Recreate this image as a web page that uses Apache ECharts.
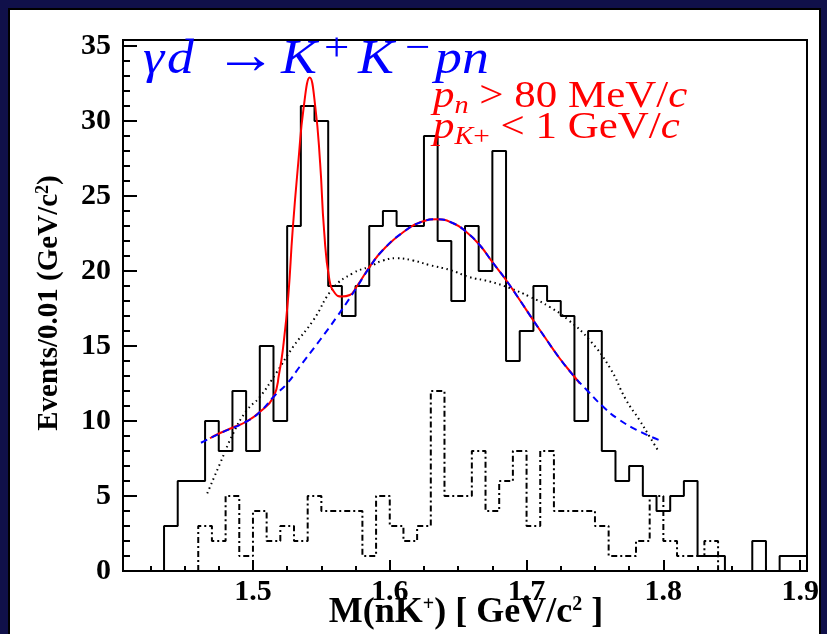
<!DOCTYPE html>
<html>
<head>
<meta charset="utf-8">
<script src="https://cdn.jsdelivr.net/npm/echarts@6/dist/echarts.min.js"></script>
<style>
  html, body { margin: 0; padding: 0; background: #10104a; }
  #panel { position: absolute; left: 8px; top: 8px; width: 809px; height: 640px; background: #fff; border: 2px solid #000; }
  #chart { position: absolute; left: 0; top: 0; width: 827px; height: 634px; }
</style>
</head>
<body>
<div id="panel"></div>
<div id="chart"></div>
<script>
// axis ranges and ticks
const xMin = 1.405, xMax = 1.905;
const yMin = 0, yMax = 35.4;
const xMajorTicks = [1.5, 1.6, 1.7, 1.8, 1.9];
const xMinorTicks = [1.425, 1.45, 1.475, 1.525, 1.55, 1.575, 1.625, 1.65, 1.675, 1.725, 1.75, 1.775, 1.825, 1.85, 1.875];
const yMajorTicks = [0, 5, 10, 15, 20, 25, 30, 35];
const yMinorTicks = [1, 2, 3, 4, 6, 7, 8, 9, 11, 12, 13, 14, 16, 17, 18, 19, 21, 22, 23, 24, 26, 27, 28, 29, 31, 32, 33, 34];

// data histogram (bin width 0.01)
const binCenters = [1.44, 1.45, 1.46, 1.47, 1.48, 1.49, 1.50, 1.51, 1.52, 1.53, 1.54, 1.55, 1.56, 1.57, 1.58, 1.59,
  1.60, 1.61, 1.62, 1.63, 1.64, 1.65, 1.66, 1.67, 1.68, 1.69, 1.70, 1.71, 1.72, 1.73, 1.74, 1.75, 1.76, 1.77,
  1.78, 1.79, 1.80, 1.81, 1.82, 1.83, 1.84, 1.85, 1.86, 1.87, 1.88, 1.89, 1.90];
const counts = [3, 6, 6, 10, 8, 12, 8, 15, 10, 23, 31, 30, 19, 17, 19, 23,
  24, 23, 23, 29, 22, 18, 23, 20, 28, 14, 16, 19, 18, 17, 10, 16, 8, 6,
  7, 5, 4, 5, 6, 1, 1, 0, 0, 2, 0, 1, 1];

// dash-dotted histogram (bins start at these low edges)
const bkgLowEdges = [1.46, 1.47, 1.48, 1.49, 1.50, 1.51, 1.52, 1.53, 1.54, 1.55, 1.56, 1.57, 1.58, 1.59,
  1.60, 1.61, 1.62, 1.63, 1.64, 1.65, 1.66, 1.67, 1.68, 1.69, 1.70, 1.71, 1.72, 1.73, 1.74, 1.75,
  1.76, 1.77, 1.78, 1.79, 1.80, 1.81, 1.82, 1.83];
const bkgCounts = [3, 2, 5, 1, 4, 2, 3, 2, 5, 4, 4, 4, 1, 5,
  3, 2, 3, 12, 5, 5, 8, 4, 6, 8, 3, 8, 4, 4, 4, 3,
  1, 1, 2, 5, 2, 1, 1, 2];

// full fit (red)
const fitX = [1.4686, 1.476, 1.485, 1.495, 1.505, 1.515, 1.5192, 1.5221, 1.5258, 1.529, 1.5331, 1.5372, 1.5415,
  1.5455, 1.5491, 1.552, 1.5559, 1.5601, 1.5649, 1.5708, 1.5757, 1.5854, 1.595, 1.61, 1.624, 1.634, 1.646,
  1.656, 1.666, 1.675, 1.685, 1.695, 1.705, 1.714, 1.724, 1.735, 1.739];
const fitY = [8.85, 9.2, 9.55, 9.95, 10.6, 11.6, 13.2, 14.95, 18.3, 22.7, 27.2, 31.0, 32.9,
  31.0, 27.2, 22.7, 19.4, 18.5, 18.3, 18.4, 18.95, 20.3, 21.4, 22.6, 23.3, 23.45, 23.2,
  22.6, 21.7, 20.6, 19.4, 18.07, 16.7, 15.5, 14.2, 12.95, 12.5];

// background part of fit (blue dashed)
const bgX = [1.462, 1.476, 1.495, 1.505, 1.516, 1.525, 1.534, 1.549, 1.561, 1.573, 1.585, 1.595, 1.61, 1.624,
  1.634, 1.646, 1.656, 1.666, 1.675, 1.685, 1.695, 1.705, 1.714, 1.724, 1.735, 1.744, 1.756, 1.768, 1.783, 1.798];
const bgY = [8.55, 9.18, 9.95, 10.6, 11.7, 12.5, 13.6, 15.4, 16.9, 18.5, 20.2, 21.4, 22.6, 23.3,
  23.45, 23.2, 22.6, 21.7, 20.6, 19.4, 18.07, 16.7, 15.5, 14.2, 12.95, 12.07, 10.95, 10.07, 9.29, 8.69];

// phase-space shape (black dotted)
const psX = [1.4666, 1.476, 1.4856, 1.4954, 1.505, 1.517, 1.5294, 1.544, 1.5586, 1.573, 1.5854, 1.595, 1.605,
  1.617, 1.629, 1.644, 1.658, 1.673, 1.688, 1.702, 1.717, 1.731, 1.746, 1.7606, 1.7728, 1.7825, 1.79, 1.797];
const psY = [5.18, 7.18, 9.18, 10.7, 11.6, 13.2, 14.95, 16.7, 18.85, 19.85, 20.3, 20.7, 20.85,
  20.7, 20.4, 20.07, 19.6, 19.3, 18.85, 18.3, 17.6, 16.7, 15.4, 13.6, 11.4, 10.07, 8.95, 7.9];

const half = 0.005;
const histData = [[binCenters[0] - half, 0]]
  .concat(binCenters.map((c, i) => [c - half, counts[i]]))
  .concat([[binCenters[binCenters.length - 1] + half, counts[counts.length - 1]],
           [binCenters[binCenters.length - 1] + half, 0]]);
const bkgData = [[bkgLowEdges[0], 0]]
  .concat(bkgLowEdges.map((e, i) => [e, bkgCounts[i]]))
  .concat([[bkgLowEdges[bkgLowEdges.length - 1] + 0.01, bkgCounts[bkgCounts.length - 1]],
           [bkgLowEdges[bkgLowEdges.length - 1] + 0.01, 0]]);
const pairs = (xs, ys) => xs.map((x, i) => [x, ys[i]]);

const serif = 'Liberation Serif';
const tickFont = { color: '#000', fontFamily: serif, fontWeight: 'bold', fontSize: 30 };
const blue = '#0000ff', red = '#ff0000';

// one text piece, x = left edge, y = vertical middle, slightly widened like TeX fonts
function piece(text, x, y, size, color, italic) {
  return {
    type: 'text', x: x, y: y, scaleX: 1.12, z: 10, silent: true,
    style: {
      text: text, fill: color, fontFamily: serif, fontSize: size,
      fontStyle: italic ? 'italic' : 'normal', verticalAlign: 'middle', align: 'left'
    }
  };
}
// a red cut line written as rich text
function cutLine(text, y) {
  const it = { fontFamily: serif, fontStyle: 'italic', fontSize: 38, lineHeight: 44, fill: red };
  const up = { fontFamily: serif, fontSize: 38, lineHeight: 44, fill: red };
  return {
    type: 'text', x: 433, y: y, scaleX: 1.13, z: 10, silent: true,
    style: {
      text: text, verticalAlign: 'top', align: 'left',
      rich: {
        i: it, n: up,
        sub: { fontFamily: serif, fontStyle: 'italic', fontSize: 25, lineHeight: 22, verticalAlign: 'bottom', fill: red },
        sup: { fontFamily: serif, fontSize: 26, lineHeight: 26, verticalAlign: 'bottom', fill: red }
      }
    }
  };
}

const labels = [
  piece('γ', 143, 60, 48, blue, true),
  piece('d', 167, 60, 48, blue, true),
  piece('→', 214, 58, 56, blue, false),
  piece('K', 281, 60, 48, blue, true),
  piece('+', 324, 49, 40, blue, false),
  piece('K', 358, 60, 48, blue, true),
  piece('−', 405, 49, 40, blue, false),
  piece('pn', 435, 60, 48, blue, true),
  cutLine('{i|p}{sub|n}{n| > 80 MeV/}{i|c}', 75),
  cutLine('{i|p}{sub|K}{sup|+}{n| < 1 GeV/}{i|c}', 106),
  {
    type: 'text', x: 466, y: 613, z: 10, silent: true,
    style: {
      text: '{b|M(nK}{s|+}{b|) [ GeV/c}{s|2}{b| ]}',
      align: 'center', verticalAlign: 'middle',
      rich: {
        b: { fontFamily: serif, fontWeight: 'bold', fontSize: 36, lineHeight: 36, fill: '#000' },
        s: { fontFamily: serif, fontWeight: 'bold', fontSize: 20, lineHeight: 20, verticalAlign: 'top', fill: '#000' }
      }
    }
  },
  {
    type: 'text', x: 50, y: 303, rotation: Math.PI / 2, z: 10, silent: true,
    style: {
      text: '{b|Events/0.01 (GeV/c}{s|2}{b|)}',
      align: 'center', verticalAlign: 'middle',
      rich: {
        b: { fontFamily: serif, fontWeight: 'bold', fontSize: 29, lineHeight: 32, fill: '#000' },
        s: { fontFamily: serif, fontWeight: 'bold', fontSize: 18, lineHeight: 18, verticalAlign: 'top', fill: '#000' }
      }
    }
  }
];

const chart = echarts.init(document.getElementById('chart'));
chart.setOption({
  animation: false,
  grid: { left: 123, right: 20, top: 40, bottom: 63, show: true, borderColor: '#000', borderWidth: 2, backgroundColor: 'transparent' },
  xAxis: [
    {
      type: 'value', min: xMin, max: xMax,
      axisLine: { show: false }, splitLine: { show: false },
      axisTick: { inside: true, length: 11, customValues: xMajorTicks, lineStyle: { color: '#000', width: 2 } },
      axisLabel: Object.assign({ customValues: xMajorTicks, margin: 6, formatter: v => v.toFixed(1) }, tickFont)
    },
    {
      type: 'value', min: xMin, max: xMax, position: 'bottom',
      axisLine: { show: false }, splitLine: { show: false }, axisLabel: { show: false },
      axisTick: { inside: true, length: 5, customValues: xMinorTicks, lineStyle: { color: '#000', width: 2 } }
    }
  ],
  yAxis: [
    {
      type: 'value', min: yMin, max: yMax,
      axisLine: { show: false }, splitLine: { show: false },
      axisTick: { inside: true, length: 14, customValues: yMajorTicks, lineStyle: { color: '#000', width: 2 } },
      axisLabel: Object.assign({ customValues: yMajorTicks, margin: 12 }, tickFont)
    },
    {
      type: 'value', min: yMin, max: yMax, position: 'left',
      axisLine: { show: false }, splitLine: { show: false }, axisLabel: { show: false },
      axisTick: { inside: true, length: 7, customValues: yMinorTicks, lineStyle: { color: '#000', width: 2 } }
    }
  ],
  series: [
    {
      name: 'data', type: 'line', step: 'end', data: histData, showSymbol: false, z: 3,
      lineStyle: { color: '#000', width: 2 }
    },
    {
      name: 'bkg', type: 'line', step: 'end', data: bkgData, showSymbol: false, z: 3,
      lineStyle: { color: '#000', width: 2, type: [6, 3, 2, 3] }
    },
    {
      name: 'phase space', type: 'line', smooth: true, data: pairs(psX, psY), showSymbol: false, z: 4,
      lineStyle: { color: '#000', width: 2, type: [1.5, 3.5] }
    },
    {
      name: 'fit', type: 'line', smooth: true, data: pairs(fitX, fitY), showSymbol: false, z: 5,
      lineStyle: { color: red, width: 2 }
    },
    {
      name: 'fit bg', type: 'line', smooth: true, data: pairs(bgX, bgY), showSymbol: false, z: 6,
      lineStyle: { color: blue, width: 2, type: [7, 5] }
    }
  ],
  graphic: labels
});
</script>
</body>
</html>
